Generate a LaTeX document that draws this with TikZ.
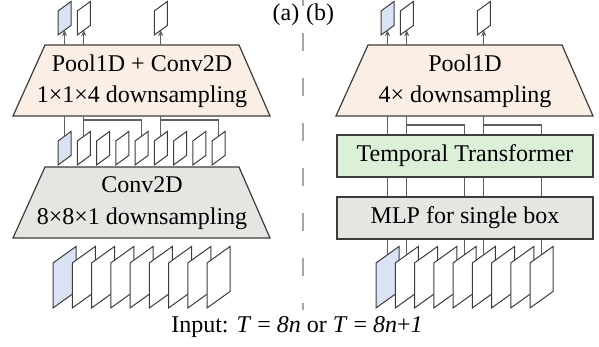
\documentclass[tikz,border=0pt]{standalone}
\usepackage{fontspec}
\setmainfont{Liberation Serif}
\usetikzlibrary{arrows.meta,backgrounds}
\definecolor{poolfill}{RGB}{251,239,229}
\definecolor{convfill}{RGB}{231,229,225}
\definecolor{tranfill}{RGB}{220,240,215}
\definecolor{bluefr}{RGB}{218,227,243}
\definecolor{edge}{RGB}{60,60,60}
\definecolor{wirec}{RGB}{95,95,95}
% small frame: name, x and y of lower left corner, fill
\newcommand{\smallfr}[4]{%
  \draw[frm,fill=#4] (#2,#3) -- ++(0,-24) -- ++(13,-9.5) -- ++(0,24) -- cycle;
  \path (#2,#3) ++(6.5,-28.75) coordinate (#1t) (#2,#3) ++(6.5,-4.75) coordinate (#1b);}
% big frame: name, x and y of lower left corner, fill
\newcommand{\bigfr}[4]{%
  \draw[frm,fill=#4] (#2,#3) -- ++(0,-45) -- ++(23,-16.5) -- ++(0,45) -- cycle;
  \path (#2,#3) ++(11.5,-53.25) coordinate (#1t);}
\begin{document}
\begin{tikzpicture}[x=0.5pt,y=-0.5pt,font=\fontsize{12}{14}\selectfont,>={Stealth[length=3pt,width=2.6pt]},
  frm/.style={draw=edge,line width=0.5pt},
  blk/.style={draw=edge,line width=0.6pt},
  wire/.style={draw=wirec,line width=0.6pt},
  divider/.style={draw=black!35,line width=1pt,dash pattern=on 9pt off 13.5pt,dash phase=6pt}]
\useasboundingbox (0,0) rectangle (599,347);

\draw[divider] (303,0) -- (303,310);
\node (la) at (286,15) {(a)};
\node (lb) at (320,15) {(b)};

% ---------- (a) ----------
\draw[blk,fill=poolfill] (45,45) -- (239,45) -- (270,116) -- (13,116) -- cycle;
\coordinate (ptopA) at (142,45);
\coordinate (pbotA) at (142,116);
\node (poolA) at (142,63) {Pool1D + Conv2D};
\node (poolAs) at (142,97) {1×1×4 downsampling};

\draw[blk,fill=convfill] (45,167) -- (239,167) -- (270,238) -- (13,238) -- cycle;
\node (convA) at (142,185) {Conv2D};
\node (convAs) at (142,219) {8×8×1 downsampling};

\foreach \k/\n in {0/1,1/2,5/3}{
  \pgfmathsetmacro\fx{58+19.25*\k}
  \ifnum\k=0 \def\fc{bluefr}\else\def\fc{white}\fi
  \smallfr{ao\n}{\fx}{35}{\fc}
}
\foreach \k in {0,...,8}{
  \pgfmathsetmacro\fx{58+19.25*\k}
  \ifnum\k=0 \def\fc{bluefr}\else\def\fc{white}\fi
  \smallfr{am\k}{\fx}{165}{\fc}
}
\foreach \k in {0,...,8}{
  \pgfmathsetmacro\fx{53+19.25*\k}
  \ifnum\k=0 \def\fc{bluefr}\else\def\fc{white}\fi
  \bigfr{ai\k}{\fx}{308}{\fc}
}

\foreach \n in {1,2,3}
  \draw[wire,->] (ao\n b |- ptopA) -- (ao\n b);
\coordinate (jA) at (0,120);
\draw[wire] (am0t) -- (am0t |- pbotA);
\draw[wire] (am1t) -- (am1t |- pbotA);
\draw[wire] (am4t) -- (am4t |- jA) -- (am1t |- jA);
\draw[wire] (am5t) -- (am5t |- pbotA);
\draw[wire] (am8t) -- (am8t |- jA) -- (am5t |- jA);

% ---------- (b) ----------
\draw[blk,fill=poolfill] (368,45) -- (562,45) -- (593,116) -- (336,116) -- cycle;
\coordinate (ptopB) at (465,45);
\coordinate (pbotB) at (465,116);
\node (poolB) at (465,63) {Pool1D};
\node (poolBs) at (465,97) {4× downsampling};

\node[blk,fill=tranfill,minimum width=128pt,minimum height=21pt,inner sep=0pt] (tran) at (465,156) {Temporal Transformer};
\node[blk,fill=convfill,minimum width=128pt,minimum height=21pt,inner sep=0pt] (mlp) at (465,218) {MLP for single box};

\foreach \k/\n in {0/1,1/2,5/3}{
  \pgfmathsetmacro\fx{381+19.25*\k}
  \ifnum\k=0 \def\fc{bluefr}\else\def\fc{white}\fi
  \smallfr{bo\n}{\fx}{35}{\fc}
}
\foreach \k in {0,...,8}{
  \pgfmathsetmacro\fx{376+19.25*\k}
  \ifnum\k=0 \def\fc{bluefr}\else\def\fc{white}\fi
  \bigfr{bi\k}{\fx}{308}{\fc}
}

\foreach \n in {1,2,3}
  \draw[wire,->] (bo\n b |- ptopB) -- (bo\n b);
\coordinate (jB) at (0,125);
\draw[wire] (bi0t |- pbotB) -- (bi0t |- tran.north);
\draw[wire] (bi1t |- pbotB) -- (bi1t |- tran.north);
\draw[wire] (bi1t |- jB) -- (bi4t |- jB) -- (bi4t |- tran.north);
\draw[wire] (bi5t |- pbotB) -- (bi5t |- tran.north);
\draw[wire] (bi5t |- jB) -- (bi8t |- jB) -- (bi8t |- tran.north);
\foreach \k in {0,1,4,5,8}{
  \draw[wire] (bi\k t |- tran.south) -- (bi\k t |- mlp.north);
  \begin{scope}[on background layer]
    \draw[wire] (bi\k t |- mlp.south) -- (bi\k t);
  \end{scope}
}

\node (inp) at (297,327) {Input: \textit{T} = \textit{8n} or \textit{T} = \textit{8n}+\textit{1}};
\end{tikzpicture}
\end{document}
